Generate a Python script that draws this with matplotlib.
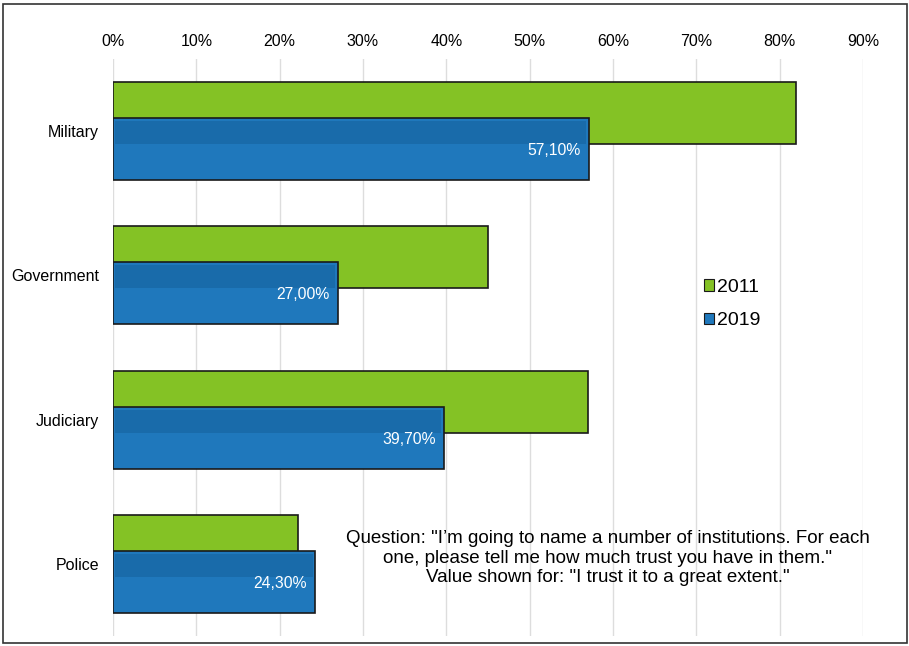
import numpy as np
import matplotlib.pyplot as plt
from matplotlib.patches import Rectangle, Patch
from matplotlib.ticker import PercentFormatter

plt.rcParams['font.family'] = ['Liberation Sans', 'DejaVu Sans']

categories = ["Military", "Government", "Judiciary", "Police"]
vals_2011 = [82.0, 45.0, 57.0, 22.2]
vals_2019 = [57.1, 27.0, 39.7, 24.3]
labels_2019 = ["57,10%", "27,00%", "39,70%", "24,30%"]

green = "#84C225"
blue = "#1F78BC"
blue_dark = "#196BAA"

fig = plt.figure(figsize=(9.09, 6.46), dpi=100)
ax = fig.add_axes([0.1243, 0.0155, 0.8251, 0.8932])

y = np.arange(len(categories))
h = 0.43
off = 0.125

ax.barh(y - off, vals_2011, height=h, color=green, edgecolor="#1a1a1a",
        linewidth=1.2, zorder=3, label="2011")
ax.barh(y + off, vals_2019, height=h, color=blue, edgecolor="#1a1a1a",
        linewidth=1.2, zorder=4, label="2019")
# darker band on the upper part of the blue bars (bevel look)
for i, v in enumerate(vals_2019):
    ax.add_patch(Rectangle((0.3, y[i] + off - h / 2 + 0.02), v - 0.6, 0.16,
                           color=blue_dark, zorder=4.5, linewidth=0))
    ax.text(v - 1.0, y[i] + off + 0.01, labels_2019[i], color="white",
            ha="right", va="center", fontsize=11.3, zorder=6)

ax.set_xlim(0, 90)
ax.set_ylim(3.5, -0.5)
ax.set_xticks(np.arange(0, 91, 10))
ax.xaxis.set_major_formatter(PercentFormatter(decimals=0))
ax.xaxis.tick_top()
ax.tick_params(axis="x", length=0, pad=7, labelsize=11.5)
ax.set_yticks(y)
ax.set_yticklabels(categories)
ax.tick_params(axis="y", length=0, pad=10, labelsize=11.5)
ax.grid(axis="x", color="#DDDDDD", linewidth=1, zorder=0)
for s in ax.spines.values():
    s.set_visible(False)

handles = [Patch(facecolor=green, edgecolor="#1a1a1a", linewidth=0.8),
           Patch(facecolor=blue, edgecolor="#1a1a1a", linewidth=0.8)]
ax.legend(handles, ["2011", "2019"], loc="center left", bbox_to_anchor=(0.765, 0.575),
          frameon=False, fontsize=14, handlelength=0.5, handleheight=0.5,
          handletextpad=0.15, labelspacing=0.85)

ax.text(0.66, 0.135,
        "Question: \"I\u2019m going to name a number of institutions. For each\n"
        "one, please tell me how much trust you have in them.\"\n"
        "Value shown for: \"I trust it to a great extent.\"",
        transform=ax.transAxes, ha="center", va="center", fontsize=13.5,
        linespacing=1.17, zorder=7)

fig.patches.append(Rectangle((0.0033, 0.005), 0.9945, 0.989, transform=fig.transFigure,
                             fill=False, edgecolor="#333333", linewidth=1.2))

plt.savefig("out.png", dpi=100)
